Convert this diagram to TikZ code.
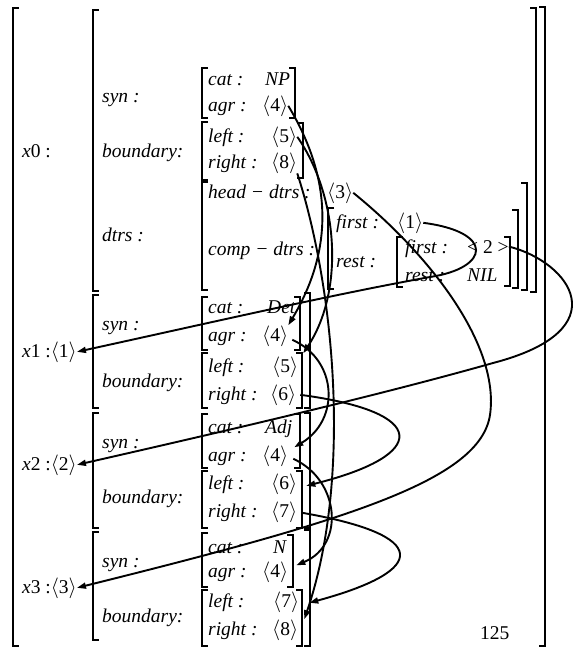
\documentclass[tikz,border=0pt]{standalone}
\usepackage{fontspec}
\setmainfont{Liberation Serif}
\usetikzlibrary{arrows.meta}
\newcommand{\shr}[1]{$\langle$#1$\rangle$}

\begin{document}
\begin{tikzpicture}[x=1pt,y=-1pt,>=Triangle]
  \tikzset{
    feat/.style={anchor=base west,inner sep=0pt,font=\fontsize{19.5}{21}\selectfont\itshape},
    val/.style={anchor=base west,inner sep=0pt,font=\fontsize{19.5}{21}\selectfont},
    brk/.style={line width=1.1pt},
    link/.style={-{Triangle[length=9pt,width=6pt]},line width=1.9pt}
  }
  \useasboundingbox (0,0) rectangle (577,649);
  \foreach \x/\ya/\yb in {13/8/646,93/10/291,93/295/408,93/413/528,93/532/640,
      202/68/118,202/122/180,202/182/290,202/297/350,202/353/408,202/414/468,
      202/471/528,202/533/587,202/590/646,328/208/289,397/237/287}
    \draw[brk] (\x+6,\ya) -- (\x,\ya) -- (\x,\yb) -- (\x+6,\yb);
  \foreach \x/\ya/\yb in {295/68/118,303/123/178,527/183/290,518/210/288,510/237/286,
      536/8/292,545/7/646,300/297/350,302/353/408,310/293/408,300/414/468,
      302/471/528,310/413/528,293/535/587,302/590/646,310/530/646}
    \draw[brk] (\x-6,\ya) -- (\x,\ya) -- (\x,\yb) -- (\x-6,\yb);

  \node[val] (x0) at (22,157) {\textit{x}0 :};
  \node[feat] (syn0) at (102,102) {syn :};
  \node[feat] (bnd0) at (102,157) {boundary:};
  \node[feat] (dtrs0) at (102,241) {dtrs :};
  \node[feat] (cat0) at (208,85) {cat :};
  \node[feat] (np) at (265,85) {NP};
  \node[feat] (agr0) at (208,111) {agr :};
  \node[val] (v4a) at (262,111) {\shr{4}};
  \node[feat] (left0) at (208,142) {left :};
  \node[val] (v5a) at (271,142) {\shr{5}};
  \node[feat] (right0) at (208,168) {right :};
  \node[val] (v8a) at (271,168) {\shr{8}};
  \node[feat] (head) at (208,198) {head − dtrs :};
  \node[val] (v3h) at (327,198) {\shr{3}};
  \node[feat] (comp) at (208,255) {comp − dtrs :};
  \node[feat] (first1) at (336,228) {first :};
  \node[val] (v1f) at (397,228) {\shr{1}};
  \node[feat] (rest1) at (336,267) {rest :};
  \node[feat] (first2) at (405,253) {first :};
  \node[val] (v2f) at (467,253) {< 2 >};
  \node[feat] (rest2) at (405,281) {rest :};
  \node[feat] (nil) at (467,281) {NIL};

  \node[val] (x1) at (22,357) {\textit{x}1 :\shr{1}};
  \node[feat] (syn1) at (102,330) {syn :};
  \node[feat] (bnd1) at (102,387) {boundary:};
  \node[feat] (cat1) at (208,313) {cat :};
  \node[feat] (det) at (267,313) {Det};
  \node[feat] (agr1) at (208,341) {agr :};
  \node[val] (v4b) at (262,341) {\shr{4}};
  \node[feat] (left1) at (208,372) {left :};
  \node[val] (v5b) at (272,372) {\shr{5}};
  \node[feat] (right1) at (208,400) {right :};
  \node[val] (v6b) at (270,400) {\shr{6}};

  \node[val] (x2) at (22,470) {\textit{x}2 :\shr{2}};
  \node[feat] (syn2) at (102,448) {syn :};
  \node[feat] (bnd2) at (102,503) {boundary:};
  \node[feat] (cat2) at (208,433) {cat :};
  \node[feat] (adj) at (265,433) {Adj};
  \node[feat] (agr2) at (208,461) {agr :};
  \node[val] (v4c) at (262,461) {\shr{4}};
  \node[feat] (left2) at (208,489) {left :};
  \node[val] (v6c) at (271,489) {\shr{6}};
  \node[feat] (right2) at (208,517) {right :};
  \node[val] (v7c) at (271,517) {\shr{7}};

  \node[val] (x3) at (22,593) {\textit{x}3 :\shr{3}};
  \node[feat] (syn3) at (102,567) {syn :};
  \node[feat] (bnd3) at (102,622) {boundary:};
  \node[feat] (cat3) at (208,553) {cat :};
  \node[feat] (n) at (273,553) {N};
  \node[feat] (agr3) at (208,577) {agr :};
  \node[val] (v4d) at (262,577) {\shr{4}};
  \node[feat] (left3) at (208,607) {left :};
  \node[val] (v7d) at (273,607) {\shr{7}};
  \node[feat] (right3) at (208,635) {right :};
  \node[val] (v8d) at (272,635) {\shr{8}};
  \node[val] (page) at (480,639) {125};

  \draw[link] (v4a.east) .. controls (333,180) and (333,250) .. (v4b.north east);
  \draw[link] (v5a.east) .. controls (338,195) and (345,290) .. ([shift={(5,-3)}]v5b.north east);
  \draw[link] (v8a.south east) .. controls (335,290) and (352,480) .. ([shift={(6,0)}]v8d.north east);
  \draw[link] ([shift={(4,4)}]v4b.east) .. controls (338,360) and (340,420) .. ([shift={(6,2)}]v4c.north east);
  \draw[link] ([shift={(5,3)}]v4c.east) .. controls (340,480) and (345,545) .. ([shift={(8,4)}]v4d.north east);
  \draw[link] ([shift={(4,0)}]v6b.east) .. controls (430,412) and (430,455) .. ([shift={(9,2)}]v6c.east);
  \draw[link] ([shift={(5,1)}]v7c.east) .. controls (430,535) and (430,570) .. ([shift={(10,1)}]v7d.east);
  \draw[link] (v1f.east) .. controls (495,232) and (490,268) .. (430,277)
    .. controls (330,295) and (200,325) .. (x1.east);
  \draw[link] (v2f.east) .. controls (570,262) and (620,330) .. (493,363)
    .. controls (380,395) and (230,430) .. (x2.east);
  \draw[link] (v3h.east) .. controls (430,255) and (500,345) .. (490,415)
    .. controls (480,480) and (350,520) .. (x3.east);
\end{tikzpicture}
\end{document}
